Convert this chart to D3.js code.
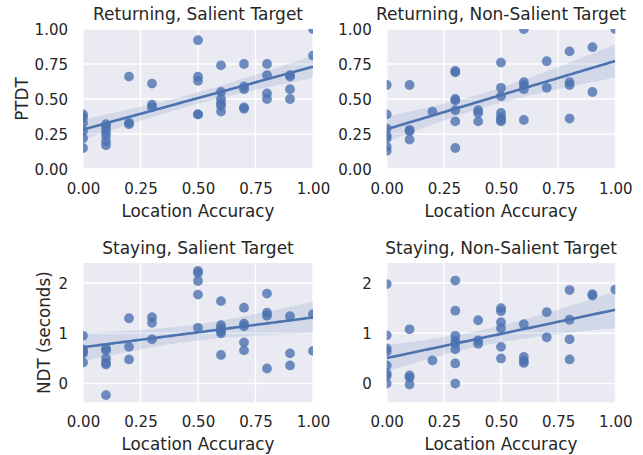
<!DOCTYPE html>
<html><head><meta charset="utf-8">
<script src="https://cdn.jsdelivr.net/npm/d3@7"></script>
<style>
body{margin:0;background:#fff}
svg{display:block}
text{font-family:"DejaVu Sans",sans-serif;fill:#262626}
</style>
</head><body>
<svg id="c" width="643" height="455"></svg>
<script>
// ---- data ----
const xLevels = [0, 0.1, 0.2, 0.3, 0.4, 0.5, 0.6, 0.7, 0.8, 0.9, 1.0];
// y values grouped by x level (same order as xLevels)
const returningSalient = [
  [0.39, 0.37, 0.33, 0.27, 0.22, 0.15],
  [0.32, 0.30, 0.27, 0.24, 0.20, 0.17],
  [0.66, 0.33, 0.32],
  [0.61, 0.46, 0.44],
  [],
  [0.92, 0.66, 0.63, 0.39, 0.39],
  [0.74, 0.55, 0.50, 0.47, 0.45, 0.41],
  [0.75, 0.59, 0.57, 0.44, 0.43],
  [0.75, 0.67, 0.54, 0.50],
  [0.67, 0.66, 0.57, 0.50],
  [1.00, 0.81]
];
const returningNonSalient = [
  [0.60, 0.39, 0.29, 0.24, 0.22, 0.16, 0.13],
  [0.60, 0.28, 0.27, 0.21],
  [0.41],
  [0.70, 0.69, 0.50, 0.49, 0.42, 0.34, 0.15],
  [0.42, 0.40, 0.34],
  [0.76, 0.58, 0.52, 0.40, 0.37, 0.35, 0.34],
  [1.00, 0.62, 0.60, 0.57, 0.35],
  [0.77, 0.58],
  [0.84, 0.62, 0.60, 0.36],
  [0.87, 0.55],
  [1.00]
];
const stayingSalient = [
  [0.95, 0.68, 0.63, 0.60, 0.42],
  [0.70, 0.66, 0.50, 0.41, 0.38, -0.23],
  [1.30, 0.73, 0.48],
  [1.32, 1.21, 0.88],
  [],
  [2.24, 2.20, 2.04, 1.77, 1.11],
  [1.64, 1.16, 1.10, 1.04, 1.00, 0.57],
  [1.51, 1.19, 1.14, 0.82, 0.66],
  [1.79, 1.41, 1.35, 0.30],
  [1.34, 0.60, 0.36],
  [1.38, 0.65]
];
const stayingNonSalient = [
  [1.98, 0.96, 0.70, 0.64, 0.36, 0.20, 0.15, 0.00],
  [1.08, 0.16, 0.12, -0.02],
  [0.46],
  [2.05, 1.45, 0.95, 0.85, 0.79, 0.68, 0.40, 0.00],
  [1.26, 0.86, 0.79],
  [1.50, 1.44, 1.22, 1.10, 0.73, 0.50],
  [1.18, 0.53, 0.45, 0.41],
  [1.42, 0.92],
  [1.86, 1.27, 0.88, 0.48],
  [1.78, 1.75],
  [1.87]
];
const titles = ["Returning, Salient Target", "Returning, Non-Salient Target",
                "Staying, Salient Target", "Staying, Non-Salient Target"];
const xTicks = [0, 0.25, 0.5, 0.75, 1.0];
const ptdtTicks = [0, 0.25, 0.5, 0.75, 1.0];
const ndtTicks = [0, 1, 2];
const xLabel = "Location Accuracy";
const yLabels = ["PTDT", "", "NDT (seconds)", ""];

// ---- layout ----
const color = "#4C72B0";
const cols = [[83, 313], [386.7, 615.3]];
const rows = [[29, 169], [263, 402.3]];
const panels = [
  {data: returningSalient, col: 0, row: 0, yDomain: [0, 1], yTicks: ptdtTicks, fmt: d3.format(".2f")},
  {data: returningNonSalient, col: 1, row: 0, yDomain: [0, 1], yTicks: ptdtTicks, fmt: d3.format(".2f")},
  {data: stayingSalient, col: 0, row: 1, yDomain: [-0.373, 2.399], yTicks: ndtTicks, fmt: d3.format("d")},
  {data: stayingNonSalient, col: 1, row: 1, yDomain: [-0.373, 2.399], yTicks: ndtTicks, fmt: d3.format("d")}
];

const svg = d3.select("#c");
const defs = svg.append("defs");

panels.forEach((p, i) => {
  const [x0, x1] = cols[p.col];
  const [y0, y1] = rows[p.row];
  const x = d3.scaleLinear().domain([0, 1]).range([x0, x1]);
  const y = d3.scaleLinear().domain(p.yDomain).range([y1, y0]);
  const pts = [];
  p.data.forEach((arr, k) => arr.forEach(v => pts.push([xLevels[k], v])));

  const g = svg.append("g");
  const clipId = "clip" + i;
  defs.append("clipPath").attr("id", clipId).append("rect")
    .attr("x", x0).attr("y", y0).attr("width", x1 - x0).attr("height", y1 - y0);

  g.append("rect").attr("x", x0).attr("y", y0).attr("width", x1 - x0).attr("height", y1 - y0)
    .attr("fill", "#EAEAF2");

  const grid = g.append("g").attr("clip-path", `url(#${clipId})`);
  grid.selectAll("line.vx").data(xTicks).join("line")
    .attr("x1", d => x(d)).attr("x2", d => x(d)).attr("y1", y0).attr("y2", y1)
    .attr("stroke", "#fff").attr("stroke-width", 1.4);
  grid.selectAll("line.hy").data(p.yTicks).join("line")
    .attr("x1", x0).attr("x2", x1).attr("y1", d => y(d)).attr("y2", d => y(d))
    .attr("stroke", "#fff").attr("stroke-width", 1.4);

  const plot = g.append("g").attr("clip-path", `url(#${clipId})`);
  plot.selectAll("circle").data(pts).join("circle")
    .attr("cx", d => x(d[0])).attr("cy", d => y(d[1])).attr("r", 4.9)
    .attr("fill", color).attr("fill-opacity", 0.8);

  // OLS fit with 95% CI of the mean prediction
  const n = pts.length;
  const mx = d3.mean(pts, d => d[0]), my = d3.mean(pts, d => d[1]);
  const sxx = d3.sum(pts, d => (d[0] - mx) ** 2);
  const sxy = d3.sum(pts, d => (d[0] - mx) * (d[1] - my));
  const b = sxy / sxx, a = my - b * mx;
  const s = Math.sqrt(d3.sum(pts, d => (d[1] - (a + b * d[0])) ** 2) / (n - 2));
  const t = 2.01;
  const grid100 = d3.range(0, 101).map(k => k / 100);
  const band = grid100.map(xv => {
    const yh = a + b * xv;
    const se = s * Math.sqrt(1 / n + (xv - mx) ** 2 / sxx);
    return [xv, yh - t * se, yh + t * se];
  });
  plot.append("path").datum(band)
    .attr("d", d3.area().x(d => x(d[0])).y0(d => y(d[1])).y1(d => y(d[2])))
    .attr("fill", color).attr("fill-opacity", 0.15);
  plot.append("path").datum(grid100)
    .attr("d", d3.line().x(d => x(d)).y(d => y(a + b * d)))
    .attr("fill", "none").attr("stroke", color).attr("stroke-width", 2.6);

  // axes
  const xAxis = d3.axisBottom(x).tickValues(xTicks).tickFormat(d3.format(".2f")).tickSize(0).tickPadding(0);
  const xa = g.append("g").attr("transform", `translate(0,${y1})`).call(xAxis);
  xa.select(".domain").remove();
  xa.selectAll("text").attr("y", 25).attr("dy", 0).style("font-size", "15px")
    .style("font-family", '"DejaVu Sans",sans-serif').attr("fill", "#262626");

  const yAxis = d3.axisLeft(y).tickValues(p.yTicks).tickFormat(p.fmt).tickSize(0).tickPadding(15);
  const ya = g.append("g").attr("transform", `translate(${x0},0)`).call(yAxis);
  ya.select(".domain").remove();
  ya.selectAll("text").attr("dy", "0.36em").style("font-size", "15px")
    .style("font-family", '"DejaVu Sans",sans-serif').attr("fill", "#262626");

  g.append("text").attr("x", (x0 + x1) / 2).attr("y", y0 - 9)
    .attr("text-anchor", "middle").style("font-size", "17px").text(titles[i]);
  g.append("text").attr("x", (x0 + x1) / 2).attr("y", y1 + 47.5)
    .attr("text-anchor", "middle").style("font-size", "16.8px").text(xLabel);
  if (yLabels[i]) {
    const lx = p.row === 0 ? 28 : 49.5;
    g.append("text").attr("transform", `translate(${lx},${(y0 + y1) / 2}) rotate(-90)`)
      .attr("text-anchor", "middle").style("font-size", "16.8px").text(yLabels[i]);
  }
});
</script>
</body></html>
